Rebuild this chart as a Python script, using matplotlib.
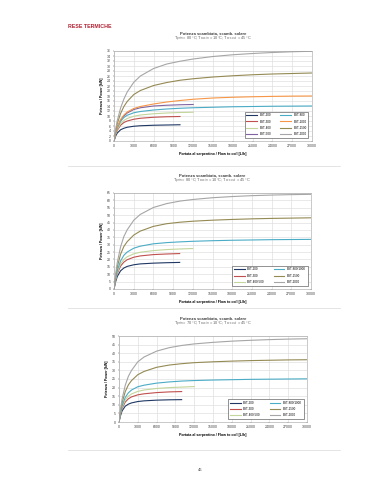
import matplotlib
matplotlib.use("Agg")
import matplotlib.pyplot as plt
from matplotlib.lines import Line2D

plt.rcParams['font.family'] = ['Liberation Sans', 'DejaVu Sans']

W, H = 374, 480

# flow rates [L/h]
flow_short = [0, 250, 500, 1000, 1500, 2000, 3000, 4000, 6000, 8000, 10000]
flow_mid = [0, 250, 500, 1000, 1500, 2000, 3000, 4000, 6000, 8000, 10000, 12000]
flow_long = [0, 250, 500, 1000, 1500, 2000, 3000, 4000, 6000, 8000, 10000, 12000,
             15000, 18000, 21000, 24000, 27000, 30000]

# chart 1 - Tprim 80 C
c1_bst200 = [0, 2.0, 3.2, 4.5, 5.1, 5.5, 5.9, 6.1, 6.3, 6.4, 6.5]
c1_bst300 = [0, 2.6, 4.3, 6.3, 7.4, 8.0, 8.7, 9.1, 9.5, 9.7, 9.8]
c1_bst400 = [0, 2.8, 4.6, 6.9, 8.2, 9.0, 9.9, 10.4, 10.9, 11.2, 11.4, 11.5]
c1_bst500 = [0, 3.2, 5.4, 8.3, 10.0, 11.2, 12.6, 13.3, 14.0, 14.3, 14.5, 14.6]
c1_bst800 = [0, 3.0, 5.2, 7.9, 9.4, 10.3, 11.3, 11.8, 12.4, 12.8, 13.1, 13.3,
             13.5, 13.7, 13.8, 13.9, 13.95, 14.0]
c1_bst1000 = [0, 3.2, 5.6, 8.6, 10.4, 11.6, 13.0, 13.8, 14.8, 15.6, 16.2, 16.7,
              17.2, 17.5, 17.7, 17.85, 17.95, 18.0]
c1_bst1500 = [0, 4.0, 7.0, 11.0, 13.8, 15.8, 18.6, 20.2, 22.2, 23.4, 24.3, 24.9,
              25.6, 26.1, 26.5, 26.8, 27.0, 27.2]
c1_bst2000 = [0, 4.6, 8.2, 13.2, 16.8, 19.6, 23.5, 26.0, 29.0, 30.8, 31.9, 32.8,
              33.8, 34.5, 35.0, 35.4, 35.7, 35.9]

# chart 2
c2_bst200 = [0, 5.0, 8.5, 12.3, 14.2, 15.3, 16.4, 17.0, 17.5, 17.8, 18.0]
c2_bst300 = [0, 6.0, 10.5, 15.5, 18.2, 19.8, 21.5, 22.4, 23.3, 23.7, 24.0]
c2_bst400_500 = [0, 6.5, 11.2, 17.0, 20.0, 21.8, 23.8, 24.9, 26.0, 26.7, 27.1, 27.4]
c2_bst800_1000 = [0, 7.0, 12.5, 19.0, 22.8, 25.0, 27.6, 29.0, 30.6, 31.4, 31.9, 32.3,
                  32.7, 33.0, 33.2, 33.4, 33.5, 33.6]
c2_bst1500 = [0, 8.5, 15.0, 23.5, 28.8, 32.0, 36.5, 39.2, 42.4, 44.2, 45.2, 45.9,
              46.6, 47.1, 47.5, 47.8, 48.0, 48.2]
c2_bst2000 = [0, 10.0, 18.0, 28.5, 35.5, 40.0, 46.5, 50.5, 55.2, 57.8, 59.5, 60.6,
              61.8, 62.6, 63.2, 63.6, 63.9, 64.1]

# chart 3 - Tprim 70 C
c3_bst200 = [0, 3.8, 6.5, 9.2, 10.4, 11.1, 11.9, 12.3, 12.7, 12.9, 13.0]
c3_bst300 = [0, 4.6, 8.0, 11.6, 13.5, 14.6, 15.8, 16.4, 17.1, 17.5, 17.7]
c3_bst400_500 = [0, 5.0, 8.7, 12.8, 15.0, 16.3, 17.8, 18.6, 19.5, 20.0, 20.3, 20.6]
c3_bst800_1000 = [0, 5.3, 9.5, 14.3, 17.0, 18.6, 20.5, 21.4, 22.6, 23.3, 23.8, 24.1,
                  24.4, 24.6, 24.8, 24.9, 25.0, 25.1]
c3_bst1500 = [0, 6.4, 11.3, 17.7, 21.6, 24.1, 27.5, 29.4, 31.8, 33.1, 33.9, 34.5,
              35.0, 35.4, 35.7, 35.9, 36.1, 36.2]
c3_bst2000 = [0, 7.5, 13.5, 21.4, 26.6, 30.0, 35.0, 37.8, 41.2, 43.2, 44.5, 45.4,
              46.3, 47.0, 47.5, 47.9, 48.2, 48.4]

x_ticks = [0, 3000, 6000, 9000, 12000, 15000, 18000, 21000, 24000, 27000, 30000]

NAVY, RED, GREEN, PURPLE = '#1f3864', '#c0504d', '#c3d69b', '#8064a2'
CYAN, ORANGE, OLIVE, GRAY = '#4bacc6', '#f79646', '#948a54', '#a6a6a6'

title = 'Potenza scambiata, scamb. solare'
sub80 = r'T$_{prim}$= 80 °C; T$_{acs\ in}$ = 10°C; T$_{acs\ out}$ = 45 °C'
sub70 = r'T$_{prim}$= 70 °C; T$_{acs\ in}$ = 10°C; T$_{acs\ out}$ = 45 °C'

charts = [
    dict(box=(114, 51, 312, 141), ymax=36, ystep=2, sub=sub80,
         series=[('BST-200', flow_short, c1_bst200, NAVY),
                 ('BST-300', flow_short, c1_bst300, RED),
                 ('BST-400', flow_mid, c1_bst400, GREEN),
                 ('BST-500', flow_mid, c1_bst500, PURPLE),
                 ('BST-800', flow_long, c1_bst800, CYAN),
                 ('BST-1000', flow_long, c1_bst1000, ORANGE),
                 ('BST-1500', flow_long, c1_bst1500, OLIVE),
                 ('BST-2000', flow_long, c1_bst2000, GRAY)]),
    dict(box=(114, 193, 311, 289), ymax=65, ystep=5, sub=sub80,
         series=[('BST-200', flow_short, c2_bst200, NAVY),
                 ('BST-300', flow_short, c2_bst300, RED),
                 ('BST-400/500', flow_mid, c2_bst400_500, GREEN),
                 ('BST-800/1000', flow_long, c2_bst800_1000, CYAN),
                 ('BST-1500', flow_long, c2_bst1500, OLIVE),
                 ('BST-2000', flow_long, c2_bst2000, GRAY)]),
    dict(box=(119, 336, 307, 422), ymax=50, ystep=5, sub=sub70,
         series=[('BST-200', flow_short, c3_bst200, NAVY),
                 ('BST-300', flow_short, c3_bst300, RED),
                 ('BST-400/500', flow_mid, c3_bst400_500, GREEN),
                 ('BST-800/1000', flow_long, c3_bst800_1000, CYAN),
                 ('BST-1500', flow_long, c3_bst1500, OLIVE),
                 ('BST-2000', flow_long, c3_bst2000, GRAY)]),
]


def px_box(l, t, r, b):
    return [l / W, 1 - b / H, (r - l) / W, (b - t) / H]


fig = plt.figure(figsize=(W / 100, H / 100), dpi=100)

fig.text(68 / W, 1 - 26 / H, 'RESE TERMICHE', color='#b22234', fontsize=3.8,
         fontweight='bold', va='center', ha='left')
fig.text(200 / W, 1 - 470 / H, '46', color='#444444', fontsize=3, ha='center', va='center')

for sep_y in [166, 308, 450]:
    fig.add_artist(Line2D([68 / W, 340 / W], [1 - sep_y / H] * 2, color='#d9d9d9', lw=0.5))

for ch in charts:
    l, t, r, b = ch['box']
    ax = fig.add_axes(px_box(l, t, r, b))
    for name, xs, ys, col in ch['series']:
        ax.plot(xs, ys, color=col, lw=0.8, label=name)
    ax.set_xlim(0, 30000)
    ax.set_ylim(0, ch['ymax'])
    ax.set_xticks(x_ticks)
    ax.set_yticks(range(0, ch['ymax'] + 1, ch['ystep']))
    ax.grid(True, color='#d9d9d9', lw=0.4)
    ax.set_axisbelow(True)
    for s in ax.spines.values():
        s.set_color('#a0a0a0')
        s.set_linewidth(0.4)
    ax.tick_params(labelsize=2.5, length=1, width=0.3, pad=1.2, colors='#404040')
    ax.set_xlabel('Portata al serpentino / Flow to coil [L/h]', fontsize=2.6,
                  fontweight='bold', labelpad=3)
    ax.set_ylabel('Potenza / Power [kW]', fontsize=2.6, fontweight='bold', labelpad=2)
    cx = (l + r) / 2 / W
    fig.text(cx, 1 - (t - 18) / H, title, fontsize=3.0, fontweight='bold',
             color='#404040', ha='center', va='center')
    fig.text(cx, 1 - (t - 12) / H, ch['sub'], fontsize=2.8, color='#606060',
             ha='center', va='center')
    leg = ax.legend(loc='lower right', ncol=2, fontsize=2.2, frameon=True,
                    fancybox=False, edgecolor='#404040', framealpha=1,
                    handlelength=3.5, columnspacing=3, borderpad=0.6,
                    labelspacing=0.7, bbox_to_anchor=(0.99, 0.02))
    leg.get_frame().set_linewidth(0.4)

fig.savefig('out.png', dpi=100)
